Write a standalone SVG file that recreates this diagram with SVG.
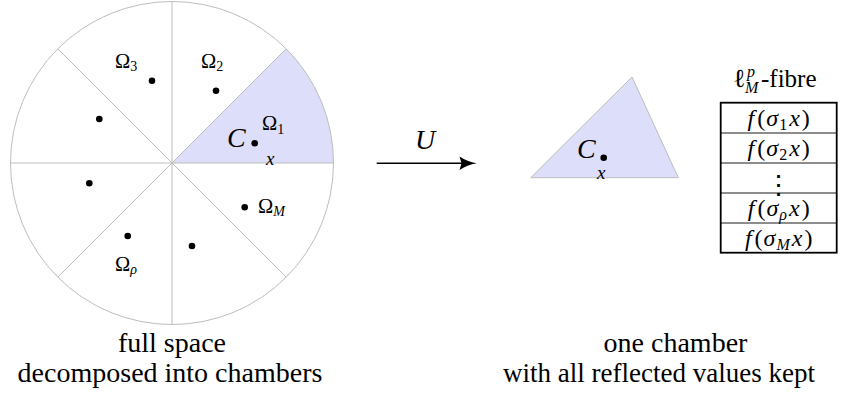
<svg xmlns="http://www.w3.org/2000/svg" width="848" height="398" viewBox="0 0 848 398" font-family="'Liberation Serif', Tinos, 'Times New Roman', 'Nimbus Roman', 'DejaVu Serif', serif">
<style>
text{font-family:'Liberation Serif', Tinos, 'Times New Roman', 'Nimbus Roman', 'DejaVu Serif', serif;fill:#000}
.cap{font-size:28px;text-anchor:middle}
.om{font-size:20.5px}
.sub{font-size:14px}
.it{font-style:italic}
.bigC{font-size:28px;font-style:italic}
.xl{font-size:19px;font-style:italic}
.tb{font-size:24px;text-anchor:middle}
.tsub{font-size:16px}
.seg{stroke:#bdbdbd;stroke-width:1;fill:none}
.sh{fill:#dddefa}
.dot{fill:#000}
.cell{stroke:#000;stroke-width:0.9}
</style>
<g id="space">
<path class="sh" d="M172,163 L333.5,163 A161.5,161.5 0 0 0 286.2,48.8 Z"/>
<circle class="seg" cx="172" cy="163" r="161.5"/>
<line class="seg" x1="10.5" y1="163" x2="333.5" y2="163"/>
<line class="seg" x1="172" y1="1.5" x2="172" y2="324.5"/>
<line class="seg" x1="57.8" y1="48.8" x2="286.2" y2="277.2"/>
<line class="seg" x1="57.8" y1="277.2" x2="286.2" y2="48.8"/>
<circle class="dot" cx="152" cy="80.7" r="3.3"/>
<circle class="dot" cx="216" cy="90.7" r="3.3"/>
<circle class="dot" cx="254.7" cy="143.3" r="3.3"/>
<circle class="dot" cx="99.3" cy="119" r="3.3"/>
<circle class="dot" cx="89.3" cy="183.3" r="3.3"/>
<circle class="dot" cx="127.7" cy="236" r="3.3"/>
<circle class="dot" cx="192" cy="246" r="3.3"/>
<circle class="dot" cx="244.7" cy="207.3" r="3.3"/>
<text class="om" x="115" y="67.5">Ω<tspan class="sub" dy="3.5">3</tspan></text>
<text class="om" x="201" y="67.5">Ω<tspan class="sub" dy="3.5">2</tspan></text>
<text class="om" x="262" y="130">Ω<tspan class="sub" dy="3.5">1</tspan></text>
<text class="om" x="258" y="213.3">Ω<tspan class="sub it" dy="3">M</tspan></text>
<text class="om" x="115" y="271">Ω<tspan class="sub it" dy="3">ρ</tspan></text>
<text class="bigC" x="227" y="146.5">C</text>
<text class="xl" x="266" y="165">x</text>
</g>
<g id="space-caption">
<text class="cap" x="172" y="352">full space</text>
<text class="cap" x="170" y="382">decomposed into chambers</text>
</g>
<g id="connectors">
<line x1="376.7" y1="163.3" x2="463" y2="163.3" stroke="#000" stroke-width="1.6"/>
<path d="M476.7,163.3 Q467,165 459.5,170 L461.5,163.3 L459.5,156.6 Q467,161.6 476.7,163.3 Z" fill="#000"/>
<text class="bigC" x="415" y="149.3">U</text>
</g>
<g id="chamber">
<polygon points="530.7,177.7 678.3,177.7 632,77" fill="#dddefa" stroke="#bdbdbd" stroke-width="1"/>
<circle class="dot" cx="603.7" cy="157.7" r="3.3"/>
<text class="bigC" x="577" y="158">C</text>
<text class="xl" x="597" y="179.3">x</text>
</g>
<g id="chamber-caption">
<text class="cap" x="675.5" y="352">one chamber</text>
<text class="cap" x="659" y="382" style="font-size:27px">with all reflected values kept</text>
</g>
<g id="fibre">
<text style="font-size:26px"><tspan x="733" y="87">ℓ</tspan><tspan class="it" style="font-size:16px" x="747" y="77">p</tspan><tspan class="it" style="font-size:16px" x="745" y="93">M</tspan><tspan x="761" y="87" style="font-size:25px">-fibre</tspan></text>
<rect x="720.7" y="102.7" width="116" height="150" fill="#fff" stroke="#000" stroke-width="1.8"/>
<line class="cell" x1="720.7" y1="133" x2="836.7" y2="133"/>
<line class="cell" x1="720.7" y1="163" x2="836.7" y2="163"/>
<line class="cell" x1="720.7" y1="193" x2="836.7" y2="193"/>
<line class="cell" x1="720.7" y1="223" x2="836.7" y2="223"/>
<text class="tb" x="778.7" y="126"><tspan class="it">f</tspan><tspan dx="3">(</tspan><tspan class="it" dx="1">σ</tspan><tspan class="tsub" dy="4" dx="1">1</tspan><tspan class="it" dy="-4" dx="2">x</tspan><tspan dx="2">)</tspan></text>
<text class="tb" x="778.7" y="156"><tspan class="it">f</tspan><tspan dx="3">(</tspan><tspan class="it" dx="1">σ</tspan><tspan class="tsub" dy="4" dx="1">2</tspan><tspan class="it" dy="-4" dx="2">x</tspan><tspan dx="2">)</tspan></text>
<text class="tb" x="778.7" y="193.5" style="font-family:'DejaVu Serif',serif;font-size:27px">⋮</text>
<text class="tb" x="778.7" y="216"><tspan class="it">f</tspan><tspan dx="3">(</tspan><tspan class="it" dx="1">σ</tspan><tspan class="tsub it" dy="4" dx="1">ρ</tspan><tspan class="it" dy="-4" dx="2">x</tspan><tspan dx="2">)</tspan></text>
<text class="tb" x="778.7" y="246"><tspan class="it">f</tspan><tspan dx="3">(</tspan><tspan class="it" dx="1">σ</tspan><tspan class="tsub it" dy="4" dx="1">M</tspan><tspan class="it" dy="-4" dx="2">x</tspan><tspan dx="2">)</tspan></text>
</g>
</svg>
